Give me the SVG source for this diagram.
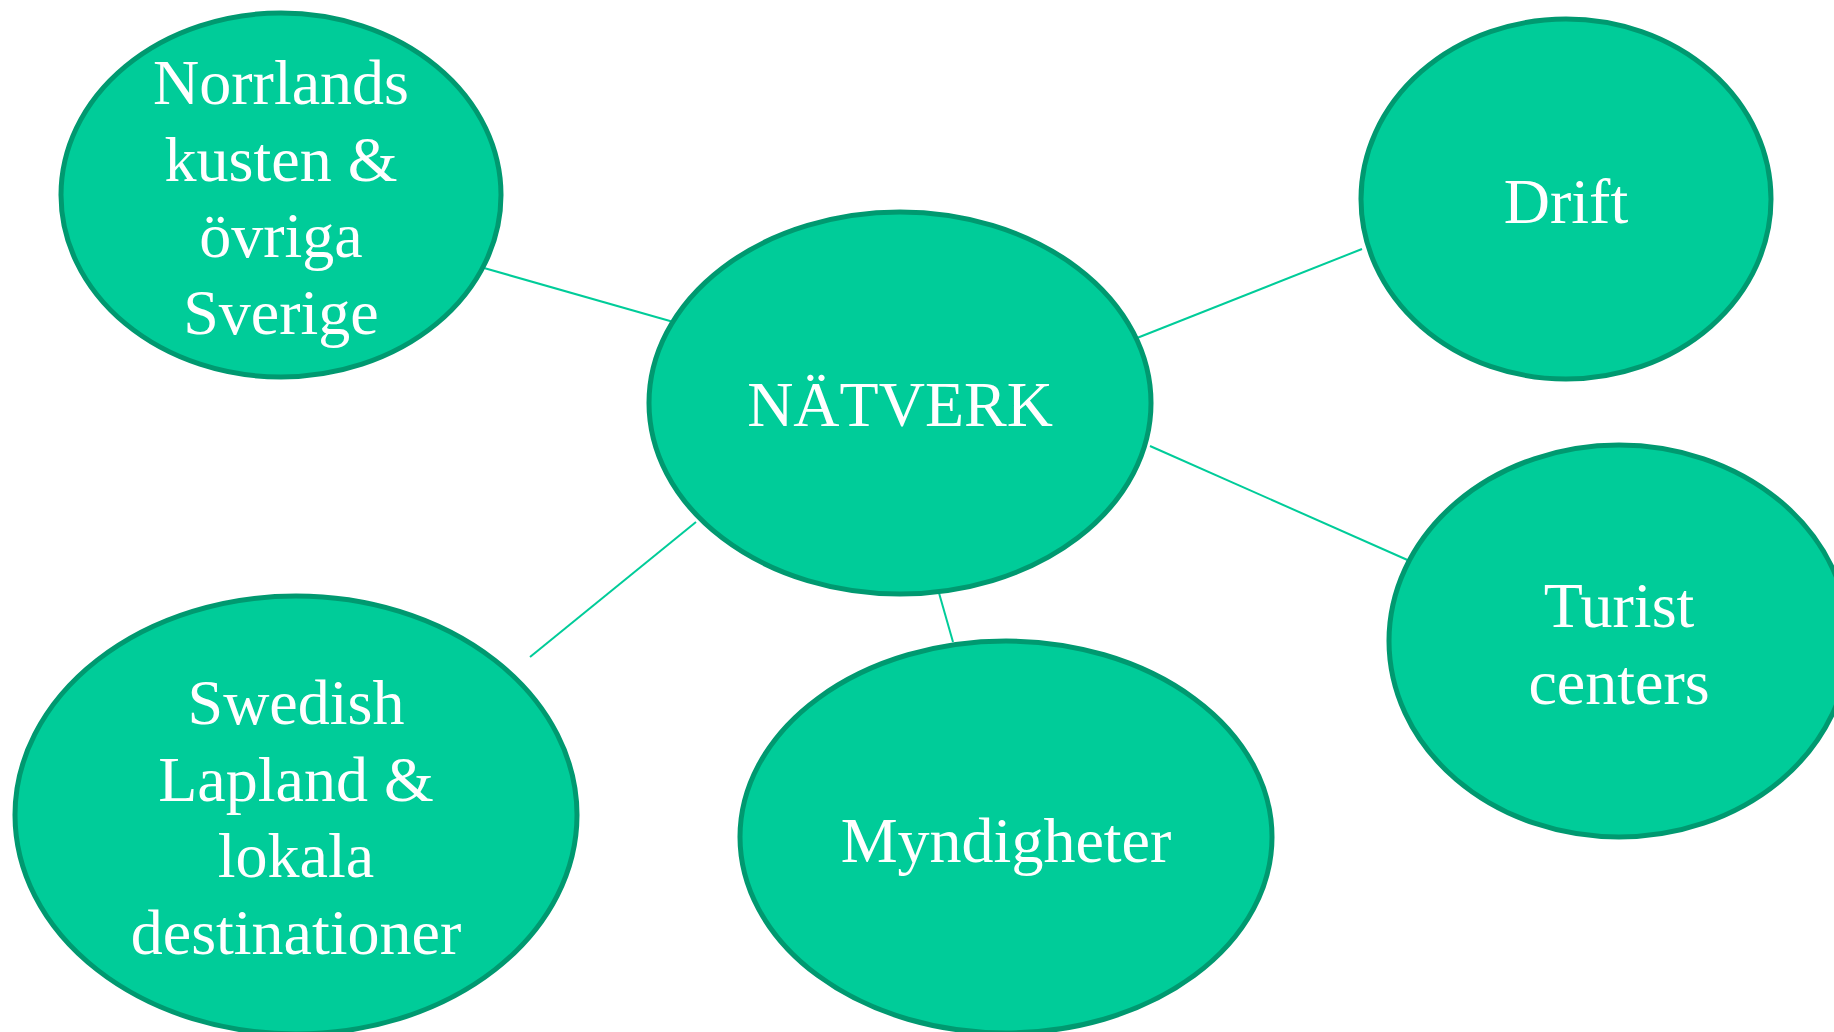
<svg xmlns="http://www.w3.org/2000/svg" width="1834" height="1032" viewBox="0 0 1834 1032">
<style>
.node{fill:#00CC99;stroke:#009970;stroke-width:5}
.lbl{font-family:"Liberation Serif","Times New Roman",serif;font-size:64px;fill:#FFFFFF;text-anchor:middle}
.edge{stroke:#00CC99;stroke-width:2;fill:none}
</style>
<rect width="1834" height="1032" fill="#FFFFFF"/>
<g id="connectors">
<line class="edge" x1="484" y1="268" x2="677" y2="323"/>
<line class="edge" x1="1137" y1="338" x2="1362" y2="249"/>
<line class="edge" x1="1150" y1="446" x2="1412" y2="562"/>
<line class="edge" x1="696" y1="522" x2="530" y2="657"/>
<line class="edge" x1="939" y1="593" x2="953" y2="642"/>
</g>
<g id="node-norrlands">
<ellipse class="node" cx="281" cy="195" rx="220" ry="182"/>
<text class="lbl" x="281" y="104">Norrlands</text>
<text class="lbl" x="281" y="181">kusten &amp;</text>
<text class="lbl" x="281" y="257">övriga</text>
<text class="lbl" x="281" y="334">Sverige</text>
</g>
<g id="node-natverk">
<ellipse class="node" cx="900" cy="403" rx="251" ry="191"/>
<text class="lbl" x="900" y="426">NÄTVERK</text>
</g>
<g id="node-drift">
<ellipse class="node" cx="1566" cy="199" rx="205" ry="180"/>
<text class="lbl" x="1566" y="223">Drift</text>
</g>
<g id="node-turist">
<ellipse class="node" cx="1619" cy="641" rx="230" ry="196"/>
<text class="lbl" x="1619" y="627">Turist</text>
<text class="lbl" x="1619" y="704">centers</text>
</g>
<g id="node-swedish">
<ellipse class="node" cx="296" cy="815" rx="281" ry="219"/>
<text class="lbl" x="296" y="724">Swedish</text>
<text class="lbl" x="296" y="801">Lapland &amp;</text>
<text class="lbl" x="296" y="877">lokala</text>
<text class="lbl" x="296" y="954">destinationer</text>
</g>
<g id="node-myndigheter">
<ellipse class="node" cx="1006" cy="837" rx="266" ry="196"/>
<text class="lbl" x="1006" y="862">Myndigheter</text>
</g>
</svg>
